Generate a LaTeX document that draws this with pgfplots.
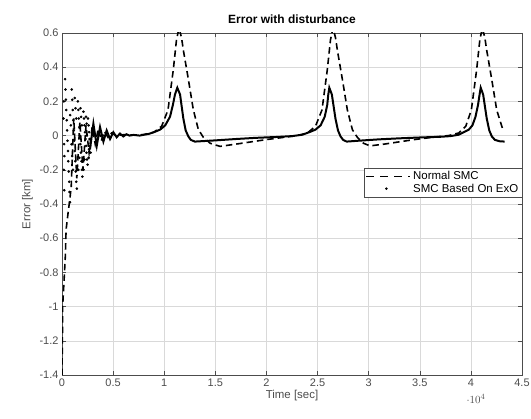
\documentclass[border=0pt]{standalone}
\usepackage{fontspec}
\setmainfont{Liberation Sans}
\usepackage{pgfplots}
\pgfplotsset{compat=1.18}

\definecolor{tickgray}{gray}{0.3}

\begin{document}
\begin{tikzpicture}
\begin{axis}[
    scale only axis,
    width=460bp, height=342bp,
    xmin=0, xmax=45000,
    ymin=-1.4, ymax=0.6,
    xtick={0,5000,...,45000},
    xticklabels={0,0.5,1,1.5,2,2.5,3,3.5,4,4.5},
    ytick={-1.4,-1.2,...,0.6},
    yticklabels={-1.4,-1.2,-1,-0.8,-0.6,-0.4,-0.2,0,0.2,0.4,0.6},
    tick align=inside,
    major tick length=4pt,
    axis line style={tickgray, line width=0.6pt},
    tick style={tickgray, line width=0.5pt},
    grid=major,
    major grid style={gray!30, line width=0.5pt},
    ticklabel style={font=\fontsize{11}{12}\selectfont, text=tickgray},
    /pgf/number format/assume math mode=true,
    xlabel={Time [sec]},
    ylabel={Error [km]},
    xlabel style={font=\fontsize{11.5}{12}\selectfont, text=tickgray, yshift=3pt},
    ylabel style={font=\fontsize{11.5}{12}\selectfont, text=tickgray, yshift=0pt},
    title={\textbf{Error with disturbance}},
    title style={font=\fontsize{12}{13}\selectfont, yshift=0pt},
    legend style={at={(rel axis cs:1,0.606)}, anchor=north east,
        font=\fontsize{11.5}{12}\selectfont, draw=tickgray, line width=0.5pt,
        inner sep=1.5pt, row sep=-1.5pt},
    legend cell align=left,
    clip=true,
]
\coordinate (bl) at (rel axis cs:0,0);
\coordinate (tr) at (rel axis cs:1,1);
% Normal SMC (dashed)
\addplot[black, line width=1.6pt, dash pattern=on 6.5pt off 4pt,
  legend image code/.code={\draw[black, line width=1.6pt, dash pattern=on 8pt off 6pt] (0bp,0bp) -- (44bp,0bp);}] coordinates {
 (0,-1.40) (40,-1.2) (60,-1.0) (200,-0.85) (330,-0.7) (400,-0.55) (600,-0.45)
 (750,-0.38) (900,-0.3) (1150,0.1) (1450,-0.25) (1750,0.08) (2050,-0.2)
 (2350,0.06) (2650,-0.1) (2950,0.05) (3250,-0.05) (3550,0.04) (3850,-0.03)
 (4150,0.025) (4500,-0.01) (4850,0.015) (5300,0.0) (6000,0.005) (7000,0.003)
 (8000,0.006) (9000,0.02) (9750,0.055) (10370,0.15) (10890,0.386) (11200,0.56)
 (11450,0.63) (11700,0.57)
 (11870,0.5) (12360,0.33) (12850,0.15) (13340,0.035) (13830,-0.01) (14500,-0.045)
 (15460,-0.063) (17000,-0.05) (20030,-0.023) (21980,-0.008) (23000,0.0)
 (24000,0.015) (24800,0.055) (25435,0.15) (25955,0.386) (26265,0.56) (26515,0.63)
 (26765,0.57) (26935,0.5) (27425,0.33) (27915,0.15) (28405,0.035) (28895,-0.01) (29500,-0.045)
 (30130,-0.06) (31500,-0.05) (34500,-0.023) (36500,-0.008) (37800,0.0)
 (38800,0.015) (39500,0.055) (40045,0.15) (40565,0.386) (40875,0.56) (41125,0.63)
 (41375,0.57) (41545,0.5) (42035,0.33) (42525,0.15) (43100,0.04)
};
\addlegendentry{Normal SMC}
% SMC based on ExO: early sparse samples
\addplot[black, only marks, mark=*, mark size=1.1pt,
  legend image code/.code={\fill[black] (20bp,0bp) circle (1pt);}] coordinates {
 (300,0.33) (340,0.27) (380,0.21) (420,0.15) (460,0.09) (500,0.03) (540,-0.03)
 (580,-0.09) (620,-0.15) (660,-0.21) (700,-0.27) (740,-0.33) (780,-0.39)
 (200,-0.05) (240,-0.12) (180,-0.2) (220,-0.32) (150,0.1) (190,0.2)
 (950,0.27) (1000,0.21) (1050,0.15) (1100,0.09) (1150,0.03) (1200,-0.03) (1250,-0.09)
 (1300,-0.15) (1350,-0.21) (1400,-0.27) (1450,-0.31)
 (1550,0.2) (1600,0.15) (1650,0.1) (1700,0.05) (1750,0.0) (1800,-0.05)
 (1850,-0.1) (1900,-0.15) (1950,-0.2) (2000,-0.24)
 (2100,0.14) (2150,0.1) (2200,0.06) (2250,0.02) (2300,-0.02) (2350,-0.06)
 (2400,-0.1) (2450,-0.14) (2500,-0.17)
 (1250,0.22) (1320,0.16) (1390,0.1) (1800,0.16) (1870,0.11) (1940,0.06)
 (2350,0.11) (2420,0.07) (2550,0.1) (2600,0.06) (2650,0.02) (2700,-0.02)
 (2750,-0.06) (2800,-0.1) (2600,-0.13) (2650,-0.08)
 (800,0.12) (860,0.06) (930,-0.05) (1000,-0.12) (1070,-0.2) (1600,-0.2)
 (1700,-0.13) (2100,-0.2) (2200,-0.14)
};
\addlegendentry{SMC Based On ExO}
\addplot[black, line width=2pt, forget plot] coordinates {
 (2740,-0.08) (3070,0.07) (3400,-0.06) (3720,0.05) (4050,-0.035) (4370,0.03)
 (4700,-0.02) (5020,0.02) (5350,-0.01) (5670,0.012) (6000,-0.005) (6300,0.008)
 (6600,0.0) (7000,0.004) (7600,0.0) (8000,0.005) (8500,0.01) (9000,0.02) (9600,0.035)
 (10100,0.06) (10565,0.11) (10850,0.18) (11050,0.24) (11280,0.28) (11550,0.24)
 (11870,0.1) (12100,0.03) (12360,-0.005) (12600,-0.025) (13000,-0.035)
 (15000,-0.028) (17000,-0.02) (19000,-0.013) (21000,-0.008) (22500,-0.003)
 (23500,0.005) (24200,0.02) (24800,0.035) (25300,0.06) (25700,0.11)
 (25950,0.18) (26050,0.24) (26150,0.28) (26400,0.24) (26750,0.1) (27000,0.03)
 (27250,-0.005) (27500,-0.025) (27850,-0.035) (29000,-0.03) (31000,-0.022)
 (33000,-0.016) (35000,-0.011) (37000,-0.007) (38000,-0.003) (38800,0.005)
 (39300,0.02) (39800,0.035) (40150,0.06) (40450,0.11) (40700,0.18)
 (40850,0.24) (40960,0.28) (41200,0.24) (41550,0.1) (41800,0.03)
 (42050,-0.005) (42350,-0.025) (42800,-0.033) (43300,-0.035)
};
\node[anchor=base east, inner sep=0pt, font=\fontsize{9.5}{10}\selectfont, text=tickgray]
  at (rel axis cs:1,0) [yshift=-40bp, xshift=-10bp] {×10\textsuperscript{4}};
\end{axis}
\pgfresetboundingbox
\path[use as bounding box] ([shift={(-62bp,-44bp)}]bl) rectangle ([shift={(9bp,33bp)}]tr);
\end{tikzpicture}
\end{document}
